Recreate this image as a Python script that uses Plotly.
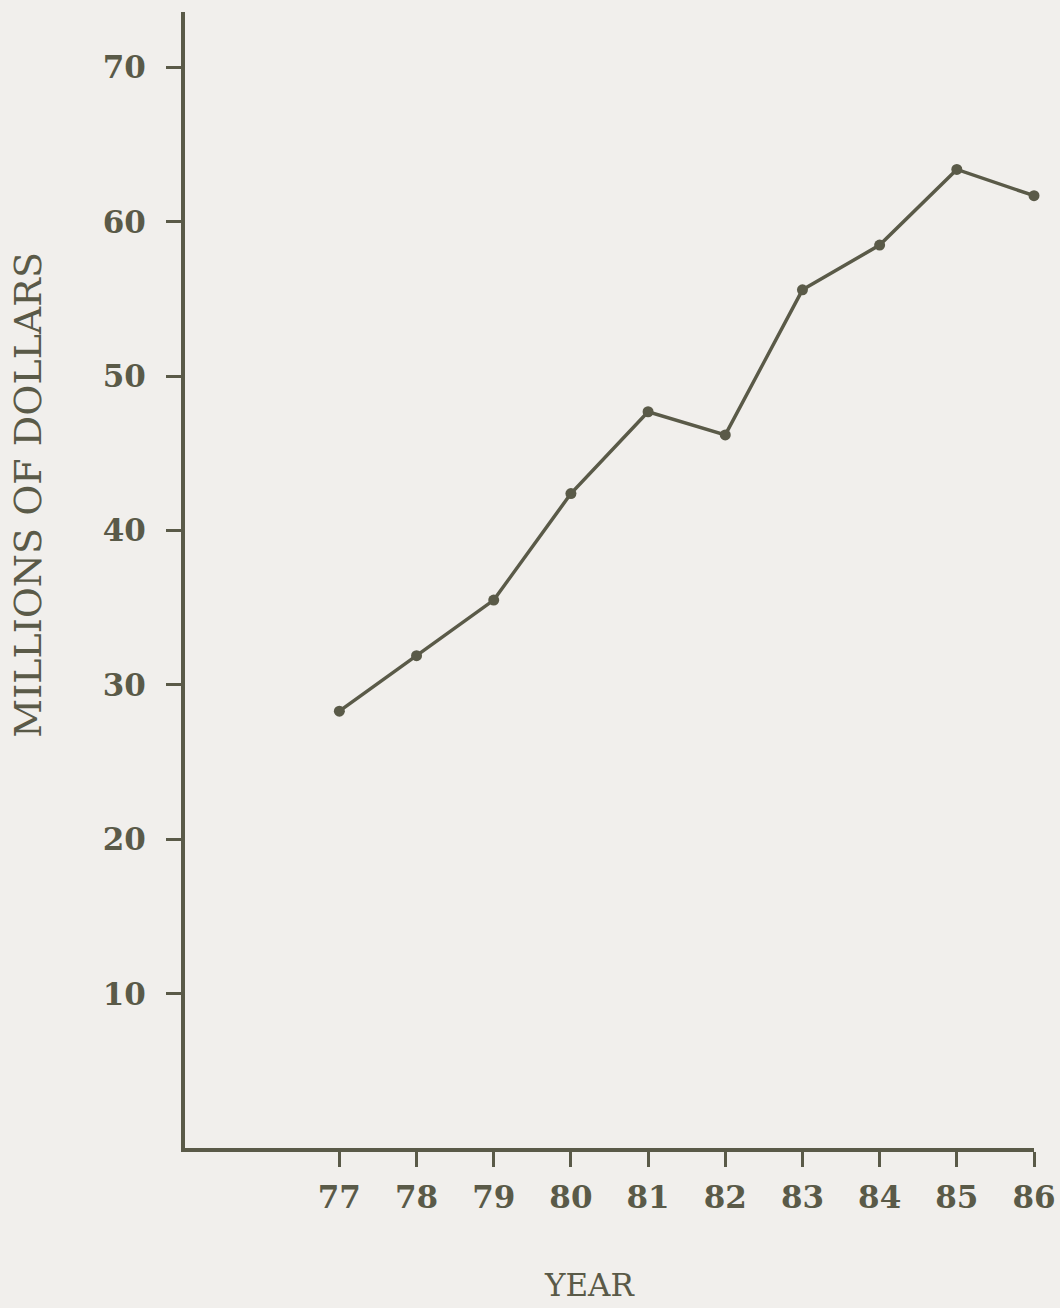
import plotly.graph_objects as go

# data
years = [77, 78, 79, 80, 81, 82, 83, 84, 85, 86]
millions = [28.3, 31.9, 35.5, 42.4, 47.7, 46.2, 55.6, 58.5, 63.4, 61.7]

y_ticks = [10, 20, 30, 40, 50, 60, 70]

ink = "#5a5a48"
paper = "#f1efec"
font_family = "DejaVu Serif, Liberation Serif, serif"

fig = go.Figure()

fig.add_trace(
    go.Scatter(
        x=years,
        y=millions,
        mode="lines+markers",
        line=dict(color=ink, width=3.5),
        marker=dict(color=ink, size=11),
        cliponaxis=False,
        showlegend=False,
    )
)

# axis titles placed as in the scan (not centred on the plot)
fig.add_annotation(
    text="MILLIONS OF DOLLARS",
    xref="paper", yref="paper",
    x=-0.185, y=0.575,
    xanchor="center", yanchor="middle",
    textangle=-90,
    showarrow=False,
    font=dict(size=38, color=ink, family=font_family),
)

fig.add_annotation(
    text="YEAR",
    xref="paper", yref="paper",
    x=0.477, y=-0.121,
    xanchor="center", yanchor="middle",
    showarrow=False,
    font=dict(size=31, color=ink, family=font_family),
)

fig.update_layout(
    width=1060,
    height=1308,
    paper_bgcolor=paper,
    plot_bgcolor=paper,
    margin=dict(l=185, r=26, t=12, b=160),
    font=dict(family=font_family, color=ink, size=28),
)

fig.update_xaxes(
    range=[75, 86],
    tickvals=years,
    ticktext=[str(y) for y in years],
    showgrid=False,
    zeroline=False,
    showline=True,
    linecolor=ink,
    linewidth=4,
    ticks="outside",
    ticklen=15,
    tickwidth=3,
    tickcolor=ink,
    ticklabelstandoff=4,
    tickfont=dict(size=31, color=ink, weight="bold"),
    automargin=False,
)

fig.update_yaxes(
    range=[0, 73.6],
    tickvals=y_ticks,
    showgrid=False,
    zeroline=False,
    showline=True,
    linecolor=ink,
    linewidth=4,
    ticks="outside",
    ticklen=15,
    tickwidth=3,
    tickcolor=ink,
    ticklabelstandoff=14,
    tickfont=dict(size=31, color=ink, weight="bold"),
    automargin=False,
)

fig.write_html(
    "out.html",
    config={"displayModeBar": False},
    post_script="document.body.style.margin='0';document.body.style.background='%s';" % paper,
)
